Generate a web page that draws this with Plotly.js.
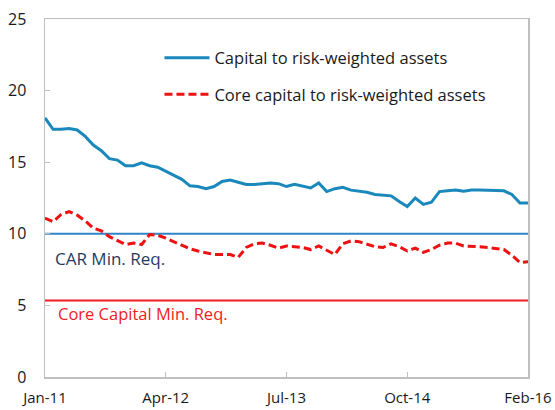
<!DOCTYPE html>
<html><head><meta charset="utf-8">
<script src="https://cdn.plot.ly/plotly-3.0.1.min.js"></script>
<style>html,body{margin:0;padding:0;background:#fff}#chart{width:555px;height:410px}</style>
</head><body><div id="chart"></div>
<script>
const months = [
  'Jan-11','Feb-11','Mar-11','Apr-11','May-11','Jun-11','Jul-11','Aug-11','Sep-11','Oct-11','Nov-11','Dec-11',
  'Jan-12','Feb-12','Mar-12','Apr-12','May-12','Jun-12','Jul-12','Aug-12','Sep-12','Oct-12','Nov-12','Dec-12',
  'Jan-13','Feb-13','Mar-13','Apr-13','May-13','Jun-13','Jul-13','Aug-13','Sep-13','Oct-13','Nov-13','Dec-13',
  'Jan-14','Feb-14','Mar-14','Apr-14','May-14','Jun-14','Jul-14','Aug-14','Sep-14','Oct-14','Nov-14','Dec-14',
  'Jan-15','Feb-15','Mar-15','Apr-15','May-15','Jun-15','Jul-15','Aug-15','Sep-15','Oct-15','Nov-15','Dec-15',
  'Feb-16'
];
const capitalToRWA = [
  18.1, 17.3, 17.3, 17.35, 17.25, 16.8, 16.2, 15.8, 15.25, 15.15, 14.75, 14.75,
  14.95, 14.75, 14.65, 14.35, 14.1, 13.8, 13.35, 13.3, 13.15, 13.3, 13.65, 13.75,
  13.6, 13.45, 13.45, 13.5, 13.55, 13.5, 13.3, 13.45, 13.3, 13.2, 13.55, 12.95,
  13.15, 13.25, 13.05, 13.0, 12.9, 12.75, 12.7, 12.65, 12.25, 11.9, 12.5, 12.05,
  12.2, 12.95, 13.0, 13.05, 12.97, 13.05, 13.05, 13.05, 13.0, 13.0, 12.75, 12.15,
  12.15
];
const coreCapitalToRWA = [
  11.1, 10.85, 11.35, 11.55, 11.3, 10.9, 10.4, 10.2, 9.8, 9.5, 9.25, 9.35,
  9.25, 9.95, 9.9, 9.7, 9.45, 9.2, 8.95, 8.8, 8.65, 8.55, 8.55, 8.55,
  8.35, 9.05, 9.3, 9.35, 9.2, 9.0, 9.15, 9.1, 9.05, 8.9, 9.15, 8.85,
  8.55, 9.3, 9.5, 9.45, 9.25, 9.1, 9.05, 9.3, 9.1, 8.8, 9.0, 8.7,
  8.9, 9.2, 9.35, 9.35, 9.15, 9.15, 9.1, 9.05, 8.95, 8.9, 8.5, 8.0,
  8.05
];
const carMinReq = 10;
const coreCapitalMinReq = 5.35;
const tickLabels = ['Jan-11','Apr-12','Jul-13','Oct-14','Feb-16'];
const yTicks = [0, 5, 10, 15, 20, 25];
const seriesNames = ['Capital to risk-weighted assets', 'Core capital to risk-weighted assets'];
const refLabels = ['CAR Min. Req.', 'Core Capital Min. Req.'];

const FONT = 'Open Sans, Noto Sans, sans-serif';

const traces = [
  {x: months, y: months.map(() => carMinReq), mode: 'lines', showlegend: false,
   line: {color: '#2e86c8', width: 2}, hoverinfo: 'skip'},
  {x: months, y: months.map(() => coreCapitalMinReq), mode: 'lines', showlegend: false,
   line: {color: '#ee1c25', width: 2}, hoverinfo: 'skip'},
  {x: months, y: capitalToRWA, name: seriesNames[0], mode: 'lines', legendgroup: 'a',
   line: {color: '#1a88bb', width: 3}},
  {x: months, y: coreCapitalToRWA, name: seriesNames[1], mode: 'lines', legendgroup: 'b',
   line: {color: '#ee1111', width: 3, dash: '8px,4px'}}
];

const layout = {
  width: 555, height: 410,
  margin: {l: 45, r: 27, t: 19, b: 33, pad: 0},
  paper_bgcolor: '#ffffff', plot_bgcolor: '#ffffff',
  font: {family: FONT, size: 15, color: '#1a1a1a'},
  showlegend: true,
  legend: {x: 0.237, y: 0.94, xanchor: 'left', yanchor: 'top', bgcolor: 'rgba(0,0,0,0)',
           font: {family: FONT, size: 16.5, color: '#1a1a1a'}, traceorder: 'grouped', tracegroupgap: 12,
           itemwidth: 45},
  xaxis: {type: 'category', categoryorder: 'array', categoryarray: months,
          range: [0, months.length - 1], tickmode: 'array', tickvals: tickLabels, ticktext: tickLabels,
          showgrid: false, zeroline: false, showline: true, linecolor: '#bfbfbf', linewidth: 1.5, mirror: true,
          ticks: 'inside', ticklen: 5, tickcolor: '#bfbfbf', tickfont: {family: FONT, size: 15, color: '#1a1a1a'},
          ticklabelstandoff: 6},
  yaxis: {range: [0, 25], tickmode: 'array', tickvals: yTicks, showgrid: false, zeroline: false,
          showline: true, linecolor: '#bfbfbf', linewidth: 1.5, mirror: true,
          ticks: 'inside', ticklen: 5, tickcolor: '#bfbfbf', tickfont: {family: FONT, size: 16, color: '#1a1a1a'},
          ticklabelstandoff: 14},
  annotations: [
    {xref: 'paper', yref: 'y', x: 0.016, y: carMinReq - 1.75, xanchor: 'left', yanchor: 'middle', showarrow: false,
     text: refLabels[0], font: {family: FONT, size: 17, color: '#1f3b63'}},
    {xref: 'paper', yref: 'y', x: 0.022, y: coreCapitalMinReq - 0.9, xanchor: 'left', yanchor: 'middle', showarrow: false,
     text: refLabels[1], font: {family: FONT, size: 16.5, color: '#ee1c25'}}
  ]
};

Plotly.newPlot('chart', traces, layout, {displayModeBar: false, staticPlot: true});
</script>
</body></html>
